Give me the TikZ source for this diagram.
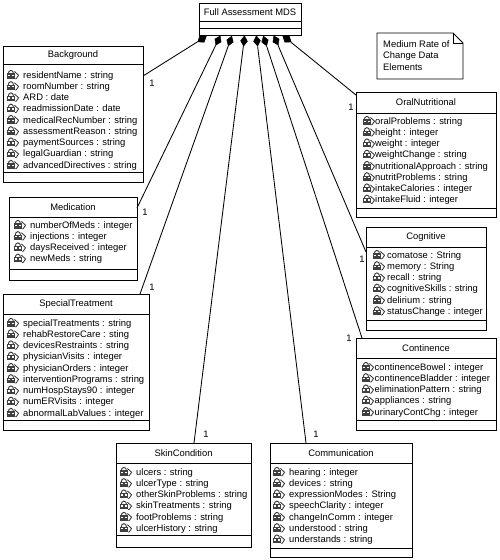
\documentclass[tikz,border=0pt]{standalone}
\usepackage{fontspec}
\setmainfont{Liberation Sans}
\usetikzlibrary{shapes.geometric}
\tikzset{
  boxline/.style={draw=black,line width=0.95pt},
  conn/.style={draw=black,line width=0.85pt},
  agg/.style={diamond,fill=black,draw=black,inner sep=0pt,minimum width=7pt,minimum height=10.5pt},
  ttl/.style={font=\fontsize{9.4}{11}\selectfont,inner sep=0pt,text=black},
  attr/.style={font=\fontsize{9.4}{11}\selectfont,inner sep=0pt,anchor=base west,text=black},
  mult/.style={font=\fontsize{9.4}{11}\selectfont,inner sep=0pt,text=black}
}
\newcommand{\umlbox}[8]{%
  \draw[boxline,fill=white] (#2,#3) rectangle (#4,#5);
  \draw[boxline] (#2,#6) -- (#4,#6) (#2,#7) -- (#4,#7);
  \node[ttl] (#1) at ({(#2+#4)/2},{(#3+#6)/2}) {#8};
}
\newcommand{\lockicon}[2]{%
  \begin{scope}[shift={(#1,#2)}]
    \draw[black!80,line width=0.9pt] (1.1,-3.5) .. controls (1.1,-9) and (6.7,-9) .. (6.7,-3.5);
    \fill[black!75] (0,-4.6) rectangle (7.8,0.7);
    \fill[white] (1.3,-3.5) rectangle (3.1,-1.9);
    \fill[white] (4.7,-3.5) rectangle (6.5,-1.9);
    \draw[black!80,line width=0.8pt] (7.4,-6.5) -- (11.6,-2.8) -- (9.2,0.7) -- (7.8,0.7);
  \end{scope}%
}
% list: prefix, icon x, text x, first baseline, items
\newcommand{\attlist}[5]{%
  \foreach \t [count=\i] in {#5}{%
    \pgfmathsetmacro{\yy}{#4+(\i-1)*11.25}%
    \lockicon{#2}{\yy}
    \node[attr] (#1\i) at (#3,\yy) {\t};
  }%
}
\begin{document}
\begin{tikzpicture}[x=1pt,y=-1pt]
\useasboundingbox (0,0) rectangle (500,560);
\fill[white] (0,0) rectangle (500,560);

\umlbox{full}{199}{3}{301}{35}{21}{28}{Full Assessment MDS}
\umlbox{bg}{3}{46}{143}{182}{64}{172}{Background}
\umlbox{oral}{356}{92}{496}{217}{113}{208}{OralNutritional}
\umlbox{med}{9}{197}{137}{280}{217}{269}{Medication}
\umlbox{cog}{366}{227}{486}{330}{247}{320}{Cognitive}
\umlbox{spec}{3}{294}{149}{430}{314}{420}{SpecialTreatment}
\umlbox{cont}{356}{338}{496}{430}{358}{420}{Continence}
\umlbox{skin}{116}{443}{251}{547}{463}{535}{SkinCondition}
\umlbox{comm}{270}{443}{412}{557}{463}{548}{Communication}

% note
\draw[boxline,fill=white] (377,33) -- (453,33) -- (463,43) -- (463,79) -- (377,79) -- cycle;
\draw[boxline] (453,33) -- (453,43) -- (463,43);
\node[attr] (note1) at (383,47) {Medium Rate of};
\node[attr] (note2) at (383,58.5) {Change Data};
\node[attr] (note3) at (383,70) {Elements};

% connectors
\node[agg,rotate=-57,minimum width=8pt] (d1) at (202,39) {};
\node[agg,rotate=-25] (d2) at (218,40.5) {};
\node[agg,rotate=-20] (d3) at (230,41) {};
\node[agg,rotate=-5] (d4) at (244,41) {};
\node[agg,rotate=7] (d5) at (257,41) {};
\node[agg,rotate=18] (d6) at (265,41) {};
\node[agg,rotate=25] (d7) at (276,40.5) {};
\node[agg,rotate=55,minimum width=8pt] (d8) at (287,39) {};
\coordinate (e1) at (143,76);
\coordinate (e2) at (137,208);
\coordinate (e3) at (140,294);
\coordinate (e4) at (194,443);
\coordinate (e5) at (306,443);
\coordinate (e6) at (362,338);
\coordinate (e7) at (366,252);
\coordinate (e8) at (356,95);
\foreach \i in {1,...,8}{\draw[conn] (d\i) -- (e\i);}
\node[mult] (m1) at (152,83) {1};
\node[mult] (m2) at (145,212) {1};
\node[mult] (m3) at (152,287) {1};
\node[mult] (m4) at (206,434) {1};
\node[mult] (m5) at (316,434) {1};
\node[mult] (m6) at (349,338) {1};
\node[mult] (m7) at (362,259) {1};
\node[mult] (m8) at (351,107) {1};

% attributes
\attlist{bga}{7}{23}{78}{residentName : string,roomNumber : string,ARD : date,readmissionDate : date,medicalRecNumber : string,assessmentReason : string,paymentSources : string,legalGuardian : string,advancedDirectives : string}
\attlist{orala}{363}{375}{124}{oralProblems : string,height : integer,weight : integer,weightChange : string,nutritionalApproach : string,nutritProblems : string,intakeCalories : integer,intakeFluid : integer}
\attlist{meda}{14}{30}{228}{numberOfMeds : integer,injections : integer,daysReceived : integer,newMeds : string}
\attlist{coga}{373}{387}{258}{comatose : String,memory : String,recall : string,cognitiveSkills : string,delirium : string,statusChange : integer}
\attlist{speca}{7}{23}{326}{specialTreatments : string,rehabRestoreCare : sting,devicesRestraints : string,physicianVisits : integer,physicianOrders : integer,interventionPrograms : string,numHospStays90 : integer,numERVisits : integer,abnormalLabValues : integer}
\attlist{conta}{362}{374.5}{370}{continenceBowel : integer,continenceBladder : integer,eliminationPattern : string,appliances : string,urinaryContChg : integer}
\attlist{skina}{120}{136}{475}{ulcers : string,ulcerType : string,otherSkinProblems : string,skinTreatments : string,footProblems : string,ulcerHistory : string}
\attlist{comma}{273}{289}{475}{hearing : integer,devices : string,expressionModes : String,speechClarity : integer,changeInComm : integer,understood : string,understands : string}
\end{tikzpicture}
\end{document}
